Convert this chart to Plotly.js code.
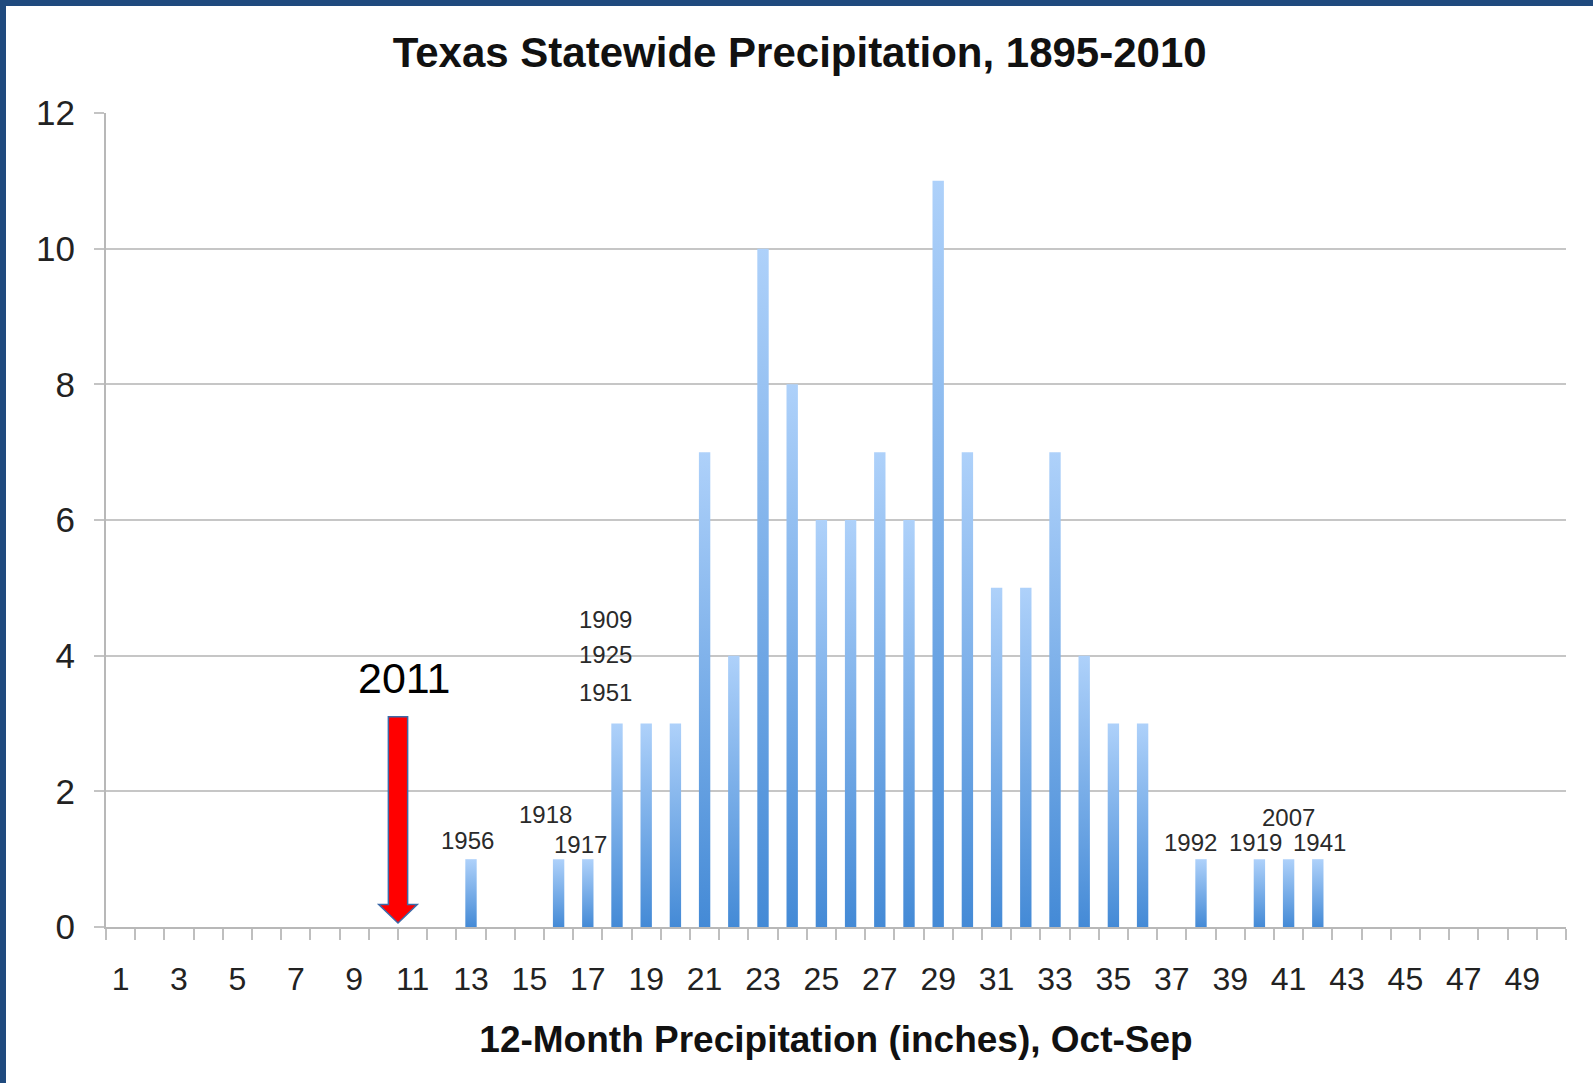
<!DOCTYPE html>
<html>
<head>
<meta charset="utf-8">
<script src="https://cdn.plot.ly/plotly-3.0.1.min.js"></script>
<style>
  html, body { margin:0; padding:0; background:#ffffff; overflow:hidden; }
  #wrap { position:relative; width:1593px; height:1083px; }
  #chart { position:absolute; left:0; top:0; width:1593px; height:1083px; }
  .frameTop { position:absolute; left:0; top:0; width:1593px; height:6px; background:#1f4a7e; }
  .frameLeft { position:absolute; left:0; top:0; width:6px; height:1083px; background:#1f4a7e; }
</style>
</head>
<body>
<div id="wrap">
  <div id="chart"></div>
  <div class="frameTop"></div>
  <div class="frameLeft"></div>
</div>
<script>
// ---- data ----
const bins = [1,2,3,4,5,6,7,8,9,10,11,12,13,14,15,16,17,18,19,20,21,22,23,24,25,26,27,28,29,30,31,32,33,34,35,36,37,38,39,40,41,42,43,44,45,46,47,48,49,50];
const counts = [0,0,0,0,0,0,0,0,0,0,0,0,1,0,0,1,1,3,3,3,7,4,10,8,6,6,7,6,11,7,5,5,7,4,3,3,0,1,0,1,1,1,0,0,0,0,0,0,0,0];
const xTickVals = [1,3,5,7,9,11,13,15,17,19,21,23,25,27,29,31,33,35,37,39,41,43,45,47,49];
const xTickLabels = ['1','3','5','7','9','11','13','15','17','19','21','23','25','27','29','31','33','35','37','39','41','43','45','47','49'];
const yearLabels = ['1956','1918','1917','1909','1925','1951','1992','1919','2007','1941'];
const highlightYear = '2011';
const highlightValue = 10.5; // inches, 2011 (bin boundary)

// ---- annotation placements (data coords) ----
const yearPos = [
  [12.88, 1.28], [15.55, 1.66], [16.75, 1.21],
  [17.6, 4.54], [17.6, 4.02], [17.6, 3.45],
  [37.64, 1.24], [39.87, 1.24], [41.0, 1.62], [42.06, 1.24]
];
const arrowTop = 3.1, arrowHeadBase = 0.33, arrowTip = 0.06;
const shaftHalf = 0.33, headHalf = 0.66;

const font = 'Arial, "Liberation Sans", Helvetica, sans-serif';

const trace = {
  type: 'bar',
  x: bins,
  y: counts,
  width: 0.39,
  marker: { color: '#78aee8', line: { width: 0 } },
  hoverinfo: 'x+y'
};

const annotations = yearLabels.map((t, i) => ({
  x: yearPos[i][0], y: yearPos[i][1], xref: 'x', yref: 'y',
  text: t, showarrow: false, xanchor: 'center', yanchor: 'middle',
  font: { family: font, size: 24, color: '#2a2a2a' }
}));
annotations.push({
  x: highlightValue + 0.19, y: 3.67, xref: 'x', yref: 'y',
  text: highlightYear, showarrow: false, xanchor: 'center', yanchor: 'middle',
  font: { family: font, size: 43, color: '#000000' }
});

const ax = highlightValue;
const arrowPath = 'M ' + (ax - shaftHalf) + ',' + arrowTop +
  ' L ' + (ax + shaftHalf) + ',' + arrowTop +
  ' L ' + (ax + shaftHalf) + ',' + arrowHeadBase +
  ' L ' + (ax + headHalf) + ',' + arrowHeadBase +
  ' L ' + ax + ',' + arrowTip +
  ' L ' + (ax - headHalf) + ',' + arrowHeadBase +
  ' L ' + (ax - shaftHalf) + ',' + arrowHeadBase + ' Z';

const layout = {
  width: 1593, height: 1083,
  paper_bgcolor: '#ffffff', plot_bgcolor: '#ffffff',
  margin: { l: 106, r: 27, t: 113, b: 156 },
  showlegend: false,
  font: { family: font, color: '#222222' },
  title: {
    text: '<b>Texas Statewide Precipitation, 1895-2010</b>',
    font: { family: font, size: 42, color: '#111111' },
    x: 0.502, xref: 'container', xanchor: 'center',
    y: 1 - 52 / 1083, yref: 'container', yanchor: 'middle'
  },
  xaxis: {
    range: [0.5, 50.5],
    tickmode: 'array', tickvals: xTickVals, ticktext: xTickLabels,
    ticks: 'outside', ticklen: 0, tickcolor: '#bfbfbf',
    ticklabelstandoff: 23,
    tickfont: { family: font, size: 32, color: '#222222' },
    showgrid: false, zeroline: false,
    showline: true, linecolor: '#b8b8b8', linewidth: 2,
    minor: { tickmode: 'linear', tick0: 0.5, dtick: 1, ticks: 'outside', ticklen: 11, tickcolor: '#bfbfbf', tickwidth: 2, showgrid: false },
    title: {
      text: '<b>12-Month Precipitation (inches), Oct-Sep</b>',
      font: { family: font, size: 37, color: '#111111' },
      standoff: 30
    },
    fixedrange: true
  },
  yaxis: {
    range: [0, 12], tickmode: 'linear', tick0: 0, dtick: 2,
    ticks: 'outside', ticklen: 10, tickcolor: '#c4c4c4', tickwidth: 2,
    ticklabelstandoff: 12,
    tickfont: { family: font, size: 35, color: '#222222' },
    showgrid: true, gridcolor: '#c6c6c6', gridwidth: 2,
    zeroline: false, showline: true, linecolor: '#b8b8b8', linewidth: 2,
    fixedrange: true
  },
  annotations: annotations,
  shapes: [{
    type: 'path', xref: 'x', yref: 'y', path: arrowPath,
    fillcolor: '#ff0000', line: { color: '#3d6aa8', width: 1.5 }, layer: 'above'
  }]
};

Plotly.newPlot('chart', [trace], layout, { displayModeBar: false, responsive: false, staticPlot: true }).then(function (gd) {
  const svg = gd.querySelector('svg.main-svg');
  const ns = 'http://www.w3.org/2000/svg';
  let defs = svg.querySelector('defs');
  if (!defs) { defs = document.createElementNS(ns, 'defs'); svg.insertBefore(defs, svg.firstChild); }
  const grad = document.createElementNS(ns, 'linearGradient');
  grad.setAttribute('id', 'barGrad');
  grad.setAttribute('x1', '0'); grad.setAttribute('y1', '0');
  grad.setAttribute('x2', '0'); grad.setAttribute('y2', '1');
  [['0', '#aed1fa'], ['1', '#448ad6']].forEach(function (s) {
    const st = document.createElementNS(ns, 'stop');
    st.setAttribute('offset', s[0]); st.setAttribute('stop-color', s[1]);
    grad.appendChild(st);
  });
  defs.appendChild(grad);
  gd.querySelectorAll('.barlayer .point path').forEach(function (p) {
    p.style.fill = 'url(#barGrad)';
  });
});
</script>
</body>
</html>
